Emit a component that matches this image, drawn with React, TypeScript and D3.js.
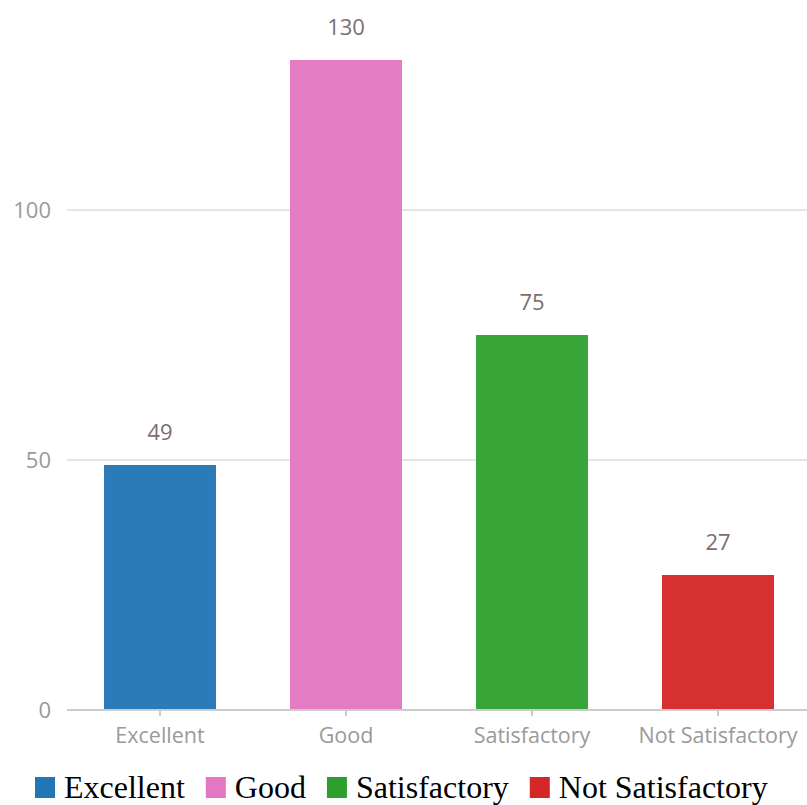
import React, { useEffect, useRef } from "react";
import * as d3 from "d3";

const categories = ["Excellent", "Good", "Satisfactory", "Not Satisfactory"];
const values = [49, 130, 75, 27];
const colors = ["#2b7bb9", "#e37cc3", "#38a538", "#d73030"];
const legendColors = ["#1f77b4", "#e377c2", "#2ca02c", "#d62728"];
const yTicks = [0, 50, 100];

const W = 807;
const H = 805;

export default function App() {
  const ref = useRef<SVGSVGElement>(null);
  useEffect(() => {
    const svg = d3.select(ref.current);
    svg.selectAll("*").remove();
    const left = 67, right = 811, bottom = 710;
    const x = d3.scaleBand().domain(categories).range([left, right]).paddingInner(0.398).paddingOuter(0.199);
    const y = d3.scaleLinear().domain([0, 140]).range([bottom, bottom - 700]);
    const sans = "'Open Sans', sans-serif";

    const g = svg.append("g");
    g.selectAll("line.grid").data(yTicks.filter(t => t > 0)).enter().append("line")
      .attr("x1", left).attr("x2", W).attr("y1", d => y(d)).attr("y2", d => y(d))
      .attr("stroke", "#dddddd").attr("stroke-width", 1.5);
    g.selectAll("text.ylab").data(yTicks).enter().append("text")
      .attr("x", 51).attr("y", d => y(d)).attr("dy", "0.36em").attr("text-anchor", "end")
      .attr("font-family", sans).attr("font-size", 22).attr("fill", "#9a9a9a")
      .text(d => d);
    g.selectAll("rect.bar").data(values).enter().append("rect")
      .attr("x", (d, i) => x(categories[i])!).attr("width", x.bandwidth())
      .attr("y", d => y(d)).attr("height", d => y(0) - y(d))
      .attr("fill", (d, i) => colors[i]);
    g.append("line").attr("x1", left).attr("x2", W).attr("y1", bottom).attr("y2", bottom)
      .attr("stroke", "#cccccc").attr("stroke-width", 2);
    g.selectAll("line.tick").data(categories).enter().append("line")
      .attr("x1", d => x(d)! + x.bandwidth() / 2).attr("x2", d => x(d)! + x.bandwidth() / 2)
      .attr("y1", bottom).attr("y2", bottom + 6).attr("stroke", "#cccccc").attr("stroke-width", 2);
    g.selectAll("text.xlab").data(categories).enter().append("text")
      .attr("x", d => x(d)! + x.bandwidth() / 2).attr("y", bottom + 33).attr("text-anchor", "middle")
      .attr("font-family", sans).attr("font-size", 21.5).attr("fill", "#9a9a9a")
      .attr("textLength", null)
      .text(d => d);
    g.selectAll("text.val").data(values).enter().append("text")
      .attr("x", (d, i) => x(categories[i])! + x.bandwidth() / 2).attr("y", d => y(d) - 25)
      .attr("text-anchor", "middle")
      .attr("font-family", sans).attr("font-size", 22).attr("fill", "#7d6e6e")
      .text(d => d);

    const lg = svg.append("g");
    let cx = 35;
    const baseY = 798;
    categories.forEach((c, i) => {
      lg.append("rect").attr("x", cx).attr("y", baseY - 21).attr("width", 20).attr("height", 21).attr("fill", legendColors[i]);
      const t = lg.append("text").attr("x", cx + 29).attr("y", baseY)
        .attr("font-family", "'Liberation Serif', 'Times New Roman', serif").attr("font-size", 32).attr("fill", "#000")
        .text(c);
      const w = (t.node() as SVGTextElement).getComputedTextLength();
      cx = cx + 29 + w + 21;
    });
  }, []);
  return (
    <svg ref={ref} width={W} height={H} style={{ position: "absolute", left: 0, top: 0, background: "#fff" }} />
  );
}
